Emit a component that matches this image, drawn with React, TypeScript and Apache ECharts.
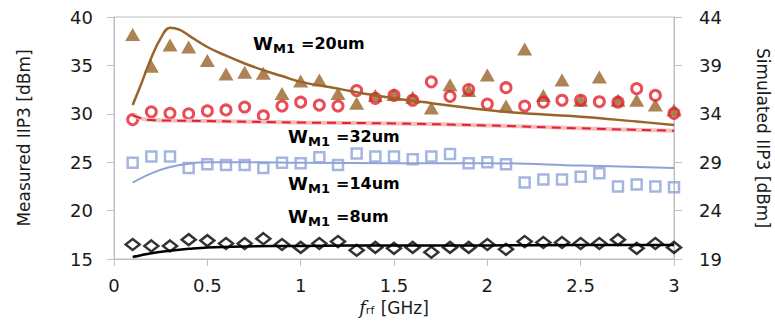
import React, { useEffect, useRef } from 'react';
import * as echarts from 'echarts';

// Measured data (left axis, Measured IIP3 [dBm])
const freqs = [0.1, 0.2, 0.3, 0.4, 0.5, 0.6, 0.7, 0.8, 0.9, 1.0, 1.1, 1.2, 1.3, 1.4, 1.5, 1.6, 1.7, 1.8, 1.9, 2.0, 2.1, 2.2, 2.3, 2.4, 2.5, 2.6, 2.7, 2.8, 2.9, 3.0];
const measured20 = [38.2, 34.9, 37.1, 36.9, 35.5, 34.1, 34.3, 34.2, 32.1, 33.4, 33.5, 32.1, 31.1, 31.9, 32.0, 31.7, 30.6, 33.0, 32.4, 34.0, 30.8, 36.7, 31.9, 33.5, 31.4, 33.8, 31.4, 31.4, 30.9, 30.4];
const measured32 = [29.4, 30.2, 30.05, 30.0, 30.3, 30.4, 30.7, 29.8, 30.8, 31.2, 30.9, 30.8, 32.4, 31.6, 31.9, 31.4, 33.3, 31.8, 32.5, 31.0, 32.7, 30.8, 31.2, 31.4, 31.4, 31.25, 31.2, 32.6, 31.9, 30.05];
const measured14 = [24.95, 25.6, 25.6, 24.4, 24.8, 24.7, 24.7, 24.4, 24.95, 24.9, 25.5, 24.7, 25.9, 25.6, 25.6, 25.3, 25.6, 25.85, 24.9, 25.0, 24.8, 22.9, 23.2, 23.2, 23.5, 23.85, 22.5, 22.7, 22.5, 22.4];
const measured8 = [16.5, 16.35, 16.35, 17.0, 16.9, 16.6, 16.6, 17.1, 16.5, 16.2, 16.6, 16.8, 15.9, 16.2, 16.1, 16.2, 15.7, 16.2, 16.2, 16.5, 16.0, 16.8, 16.7, 16.7, 16.6, 16.6, 17.0, 16.1, 16.6, 16.2];

// Simulated data (right axis, Simulated IIP3 [dBm])
const simFreq20 = [0.1, 0.15, 0.2, 0.25, 0.3, 0.35, 0.4, 0.5, 0.6, 0.7, 0.8, 0.9, 1.0, 1.2, 1.4, 1.7, 2.0, 2.2, 2.5, 2.8, 3.0];
const sim20 = [34.9, 37.3, 39.8, 41.8, 42.9, 42.7, 42.1, 40.9, 40.0, 39.2, 38.5, 37.9, 37.3, 36.6, 35.9, 35.1, 34.4, 34.05, 33.7, 33.2, 32.85];
const simFreq32 = [0.1, 0.15, 0.2, 0.3, 0.5, 1.0, 1.5, 2.0, 2.5, 3.0];
const sim32 = [33.85, 33.5, 33.35, 33.3, 33.25, 33.1, 33.0, 32.8, 32.5, 32.25];
const simFreqLow = [0.1, 0.2, 0.3, 0.4, 0.5, 0.7, 1.0, 1.5, 2.0, 2.5, 3.0];
const sim14 = [26.9, 27.85, 28.5, 28.85, 29.0, 29.0, 28.95, 28.9, 28.9, 28.65, 28.4];
const sim8 = [19.2, 19.6, 19.85, 20.05, 20.2, 20.3, 20.35, 20.4, 20.4, 20.45, 20.45];

const labelSuffixes = ['=20um', '=32um', '=14um', '=8um'];

const BROWN = '#99642A';
const RED = '#E3212B';
const BLUE = '#8FA3D9';
const PINK = '#F3BCC0';
const FONT = 'DejaVu Sans';
const AXIS_GRAY = '#BFBFBF';

export default function App() {
  const ref = useRef<HTMLDivElement>(null);
  useEffect(() => {
    if (!ref.current) return;
    const chart = echarts.init(ref.current, undefined, { renderer: 'svg' });
    const pair = (xs: number[], ys: number[]) => xs.map((x, i) => [x, ys[i]]);

    const labelPos = [
      [253, 43],
      [288, 136],
      [288, 183],
      [288, 216],
    ];
    const graphics = labelSuffixes.map((t, i) => ({
      type: 'group',
      x: labelPos[i][0],
      y: labelPos[i][1],
      children: [
        { type: 'text', x: 0, y: 0, style: { text: 'W', fontSize: 18, fontWeight: 'bold', fontFamily: FONT, fill: '#000', verticalAlign: 'middle' } },
        { type: 'text', x: 20, y: 5, style: { text: 'M1', fontSize: 13, fontWeight: 'bold', fontFamily: FONT, fill: '#000', verticalAlign: 'middle' } },
        { type: 'text', x: 48, y: 0, style: { text: t, fontSize: 16, fontWeight: 'bold', fontFamily: FONT, fill: '#000', verticalAlign: 'middle' } },
      ],
    }));

    const axisLabelStyle = { fontSize: 18, fontFamily: FONT, color: '#1a1a1a' };

    chart.setOption({
      animation: false,
      backgroundColor: '#fff',
      grid: {
        left: 114, right: 101, top: 17, bottom: 62,
        containLabel: false, outerBoundsMode: 'none',
        show: true, borderColor: AXIS_GRAY, borderWidth: 1,
      },
      xAxis: {
        type: 'value',
        min: 0,
        max: 3,
        interval: 0.5,
        name: '{f|f}{s|rf} [GHz]',
        nameLocation: 'middle',
        nameGap: 38,
        nameTextStyle: {
          fontSize: 17,
          fontFamily: FONT,
          color: '#1a1a1a',
          rich: {
            f: { fontSize: 18, fontStyle: 'italic', fontFamily: 'DejaVu Serif', color: '#1a1a1a' },
            s: { fontSize: 11, fontFamily: FONT, color: '#1a1a1a', padding: [6, 1, 0, 0] },
          },
        },
        axisLine: { lineStyle: { color: AXIS_GRAY, width: 1 } },
        axisTick: { show: true, length: 7, lineStyle: { color: AXIS_GRAY } },
        axisLabel: { ...axisLabelStyle, margin: 17 },
        splitLine: { show: false },
      },
      yAxis: [
        {
          type: 'value',
          min: 15,
          max: 40,
          interval: 5,
          position: 'left',
          name: 'Measured IIP3 [dBm]',
          nameLocation: 'middle',
          nameGap: 82,
          nameRotate: 90,
          nameTextStyle: { fontSize: 17, fontFamily: FONT, color: '#1a1a1a' },
          axisLine: { show: true, lineStyle: { color: AXIS_GRAY, width: 1 } },
          axisTick: { show: true, length: 7, lineStyle: { color: AXIS_GRAY } },
          axisLabel: { ...axisLabelStyle, margin: 21 },
          splitLine: { show: false },
        },
        {
          type: 'value',
          min: 19,
          max: 44,
          interval: 5,
          position: 'right',
          name: 'Simulated IIP3 [dBm]',
          nameLocation: 'middle',
          nameGap: 80,
          nameRotate: -90,
          nameTextStyle: { fontSize: 17, fontFamily: FONT, color: '#1a1a1a' },
          axisLine: { show: true, lineStyle: { color: AXIS_GRAY, width: 1 } },
          axisTick: { show: true, length: 8, lineStyle: { color: AXIS_GRAY } },
          axisLabel: { ...axisLabelStyle, margin: 25 },
          splitLine: { show: false },
        },
      ],
      graphic: graphics,
      series: [
        {
          name: 'Sim 20um', type: 'line', yAxisIndex: 1, data: pair(simFreq20, sim20),
          smooth: 0.4, showSymbol: false, lineStyle: { color: BROWN, width: 2.5 },
        },
        {
          name: 'Sim 32um halo', type: 'line', yAxisIndex: 1, data: pair(simFreq32, sim32),
          smooth: 0.4, showSymbol: false, lineStyle: { color: PINK, width: 4 },
        },
        {
          name: 'Sim 32um', type: 'line', yAxisIndex: 1, data: pair(simFreq32, sim32),
          smooth: 0.4, showSymbol: false, lineStyle: { color: RED, width: 2, type: [9, 6] },
        },
        {
          name: 'Sim 14um', type: 'line', yAxisIndex: 1, data: pair(simFreqLow, sim14),
          smooth: 0.4, showSymbol: false, lineStyle: { color: BLUE, width: 2 },
        },
        {
          name: 'Sim 8um', type: 'line', yAxisIndex: 1, data: pair(simFreqLow, sim8),
          smooth: 0.4, showSymbol: false, lineStyle: { color: '#000', width: 2.5 },
        },
        {
          name: 'Meas 20um', type: 'scatter', yAxisIndex: 0, data: pair(freqs, measured20),
          symbol: 'triangle', symbolSize: [15, 13], itemStyle: { color: BROWN },
        },
        {
          name: 'Meas 32um', type: 'scatter', yAxisIndex: 0, data: pair(freqs, measured32),
          symbol: 'circle', symbolSize: 10, itemStyle: { color: 'transparent', borderColor: RED, borderWidth: 3 },
        },
        {
          name: 'Meas 14um', type: 'scatter', yAxisIndex: 0, data: pair(freqs, measured14),
          symbol: 'rect', symbolSize: 10, itemStyle: { color: 'transparent', borderColor: BLUE, borderWidth: 2.5 },
        },
        {
          name: 'Meas 8um', type: 'scatter', yAxisIndex: 0, data: pair(freqs, measured8),
          symbol: 'diamond', symbolSize: [14, 11], itemStyle: { color: 'transparent', borderColor: '#000', borderWidth: 2.5 },
        },
      ],
    });
    return () => chart.dispose();
  }, []);
  return <div ref={ref} style={{ position: 'fixed', left: 0, top: 0, width: 775, height: 321 }} />;
}
